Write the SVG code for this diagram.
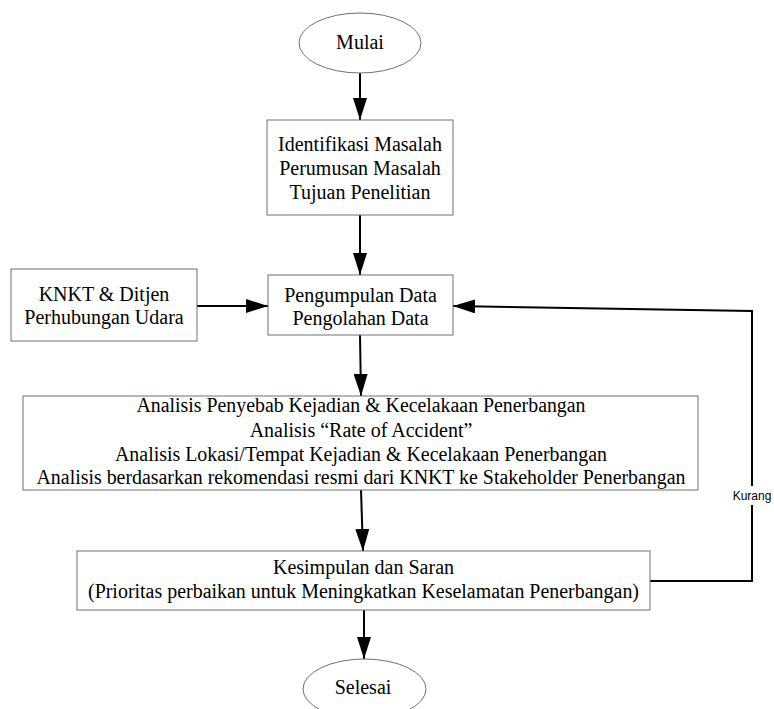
<svg xmlns="http://www.w3.org/2000/svg" width="774" height="709" viewBox="0 0 774 709">
<style>
.box{fill:#fff;stroke:#707070;stroke-width:1}
.t{font-family:"Liberation Serif","Times New Roman",serif;font-size:20px;fill:#000;text-anchor:middle}
.lbl{font-family:"Liberation Sans",Arial,sans-serif;font-size:12px;fill:#000;text-anchor:middle}
.c{fill:none;stroke:#000;stroke-width:2}
</style>
<defs>
<marker id="ah" markerWidth="22" markerHeight="14" refX="22" refY="7" orient="auto" markerUnits="userSpaceOnUse">
<path d="M0,0 L22,7 L0,14 Z" fill="#000"/>
</marker>
</defs>
<rect width="774" height="709" fill="#fff"/>
<g id="connectors">
<path class="c" d="M360,73 L360,120" marker-end="url(#ah)"/>
<path class="c" d="M360,215 L360,275" marker-end="url(#ah)"/>
<path class="c" d="M197,306 L268,306" marker-end="url(#ah)"/>
<path class="c" d="M360,335 L361,396" marker-end="url(#ah)"/>
<path class="c" d="M361,490 L363,551" marker-end="url(#ah)"/>
<path class="c" d="M364,610 L364,659" marker-end="url(#ah)"/>
<path class="c" d="M650,581 L752,581 L752,505"/>
<path class="c" d="M752,486 L752,311 L453,306" marker-end="url(#ah)"/>
<text class="lbl" x="752" y="500">Kurang</text>
</g>
<g id="mulai">
<ellipse class="box" cx="360" cy="43" rx="61" ry="30"/>
<text class="t" x="360" y="49">Mulai</text>
</g>
<g id="identifikasi">
<rect class="box" x="267" y="120" width="186" height="95"/>
<text class="t" x="360" y="151">Identifikasi Masalah</text>
<text class="t" x="360" y="175">Perumusan Masalah</text>
<text class="t" x="360" y="199">Tujuan Penelitian</text>
</g>
<g id="knkt">
<rect class="box" x="11" y="269" width="186" height="72"/>
<text class="t" x="104" y="301">KNKT &amp; Ditjen</text>
<text class="t" x="104" y="324">Perhubungan Udara</text>
</g>
<g id="pengumpulan">
<rect class="box" x="268" y="275" width="185" height="60"/>
<text class="t" x="360.5" y="302">Pengumpulan Data</text>
<text class="t" x="360.5" y="325">Pengolahan Data</text>
</g>
<g id="analisis">
<rect class="box" x="23" y="396" width="675" height="94"/>
<text class="t" x="361" y="412" textLength="449" lengthAdjust="spacingAndGlyphs">Analisis Penyebab Kejadian &amp; Kecelakaan Penerbangan</text>
<text class="t" x="361" y="437">Analisis “Rate of Accident”</text>
<text class="t" x="361" y="461" textLength="492" lengthAdjust="spacingAndGlyphs">Analisis Lokasi/Tempat Kejadian &amp; Kecelakaan Penerbangan</text>
<text class="t" x="361" y="484" textLength="649" lengthAdjust="spacingAndGlyphs">Analisis berdasarkan rekomendasi resmi dari KNKT ke Stakeholder Penerbangan</text>
</g>
<g id="kesimpulan">
<rect class="box" x="77" y="551" width="573" height="59"/>
<text class="t" x="363.5" y="574">Kesimpulan dan Saran</text>
<text class="t" x="363.5" y="598" textLength="551" lengthAdjust="spacingAndGlyphs">(Prioritas perbaikan untuk Meningkatkan Keselamatan Penerbangan)</text>
</g>
<g id="selesai">
<ellipse class="box" cx="364.5" cy="689" rx="61.5" ry="30"/>
<text class="t" x="363" y="694">Selesai</text>
</g>
</svg>
